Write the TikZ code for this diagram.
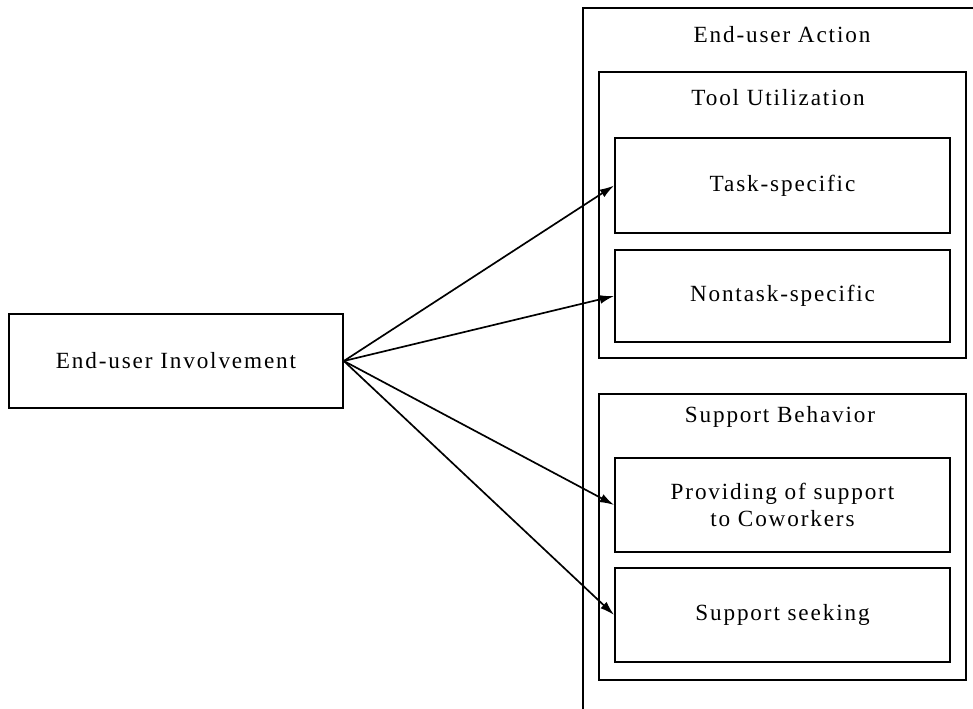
\documentclass[tikz,border=0pt]{standalone}
\usepackage{fontspec}
\setmainfont{Liberation Serif}[LetterSpace=8]
\usetikzlibrary{arrows.meta}

\begin{document}
\begin{tikzpicture}[
    every node/.style={font=\fontsize{16.5}{19}\selectfont},
    box/.style={draw, line width=1.2pt, inner sep=0pt, align=center},
    arr/.style={line width=1.2pt, -{Latex[length=3.6mm,width=2.2mm]}}
]

\useasboundingbox (0,0) rectangle (24.325,17.725);

% open frame on the right
\draw[line width=1.2pt] (14.575,0) -- (14.575,17.525) -- (24.325,17.525);
\node (acttxt) at (19.55,16.85) {End-user Action};

% left box
\node[box, minimum width=8.35cm, minimum height=2.35cm] (invol) at (4.4,8.7) {End-user Involvement};

% Tool Utilization group
\node[box, minimum width=9.175cm, minimum height=7.15cm] (tool) at (19.5625,12.35) {};
\node (tooltxt) at (19.45,15.275) {Tool Utilization};
\node[box, minimum width=8.375cm, minimum height=2.375cm] (task) at (19.5625,13.0875) {Task-specific};
\node[box, minimum width=8.375cm, minimum height=2.3cm] (nontask) at (19.5625,10.325) {Nontask-specific};

% Support Behavior group
\node[box, minimum width=9.175cm, minimum height=7.15cm] (support) at (19.5625,4.3) {};
\node (supporttxt) at (19.5,7.3) {Support Behavior};
\node[box, minimum width=8.375cm, minimum height=2.35cm] (provide) at (19.5625,5.1) {Providing of support\\to Coworkers};
\node[box, minimum width=8.375cm, minimum height=2.35cm] (seek) at (19.5625,2.35) {Support seeking};

% arrows
\draw[arr] (invol.east) -- (task.west);
\draw[arr] (invol.east) -- (nontask.west);
\draw[arr] (invol.east) -- (provide.west);
\draw[arr] (invol.east) -- (seek.west);

\end{tikzpicture}
\end{document}
